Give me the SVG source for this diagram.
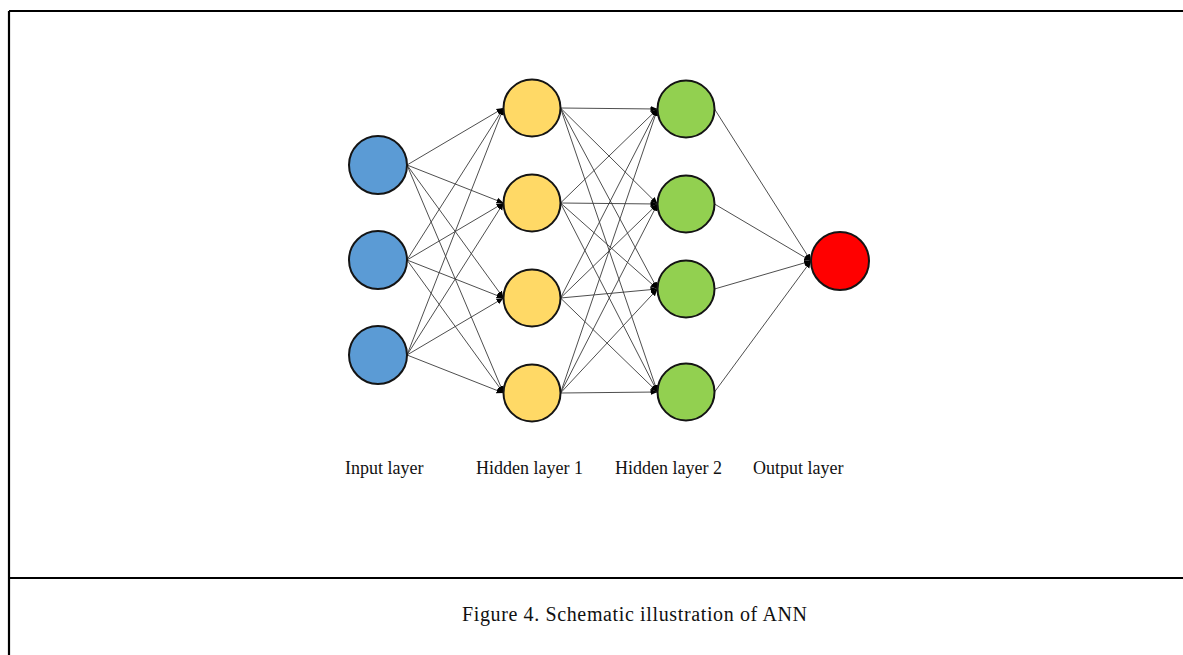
<svg xmlns="http://www.w3.org/2000/svg" width="1183" height="655" viewBox="0 0 1183 655">
<style>
.frame{stroke:#000;stroke-width:2.2;fill:none}
.node{stroke:#141414;stroke-width:2}
.in{fill:#5B9BD5}
.h1{fill:#FFD966}
.h2{fill:#92D050}
.out{fill:#FF0000}
.edge{stroke:#3a3a3a;stroke-width:0.9;fill:none;marker-end:url(#arr)}
.lbl{font-family:"Liberation Serif","Times New Roman",serif;font-size:18px;fill:#111}
.cap{font-family:"Liberation Serif","Times New Roman",serif;font-size:20px;fill:#111}
</style>
<defs>
<marker id="arr" markerUnits="userSpaceOnUse" markerWidth="8" markerHeight="8" viewBox="0 0 8 8" refX="7" refY="4" orient="auto">
<path d="M0,1 L7,4 L0,7 Z" fill="#000"/>
</marker>
</defs>
<rect width="1183" height="655" fill="#fff"/>
<g id="frame">
<path class="frame" d="M9,11 H1183 M9,11 V655"/>
<path class="frame" d="M9,578 H1183" stroke-width="2.6"/>
</g>
<g id="connectors">
<!-- input -> hidden1 -->
<line class="edge" x1="407" y1="165" x2="503.5" y2="108"/>
<line class="edge" x1="407" y1="165" x2="503.5" y2="203"/>
<line class="edge" x1="407" y1="165" x2="503.5" y2="298"/>
<line class="edge" x1="407" y1="165" x2="503.5" y2="393"/>
<line class="edge" x1="407" y1="260" x2="503.5" y2="108"/>
<line class="edge" x1="407" y1="260" x2="503.5" y2="203"/>
<line class="edge" x1="407" y1="260" x2="503.5" y2="298"/>
<line class="edge" x1="407" y1="260" x2="503.5" y2="393"/>
<line class="edge" x1="407" y1="355" x2="503.5" y2="108"/>
<line class="edge" x1="407" y1="355" x2="503.5" y2="203"/>
<line class="edge" x1="407" y1="355" x2="503.5" y2="298"/>
<line class="edge" x1="407" y1="355" x2="503.5" y2="393"/>
<!-- hidden1 -> hidden2 -->
<line class="edge" x1="560.5" y1="108" x2="657.5" y2="109"/>
<line class="edge" x1="560.5" y1="108" x2="657.5" y2="204"/>
<line class="edge" x1="560.5" y1="108" x2="657.5" y2="289"/>
<line class="edge" x1="560.5" y1="108" x2="657.5" y2="392"/>
<line class="edge" x1="560.5" y1="203" x2="657.5" y2="109"/>
<line class="edge" x1="560.5" y1="203" x2="657.5" y2="204"/>
<line class="edge" x1="560.5" y1="203" x2="657.5" y2="289"/>
<line class="edge" x1="560.5" y1="203" x2="657.5" y2="392"/>
<line class="edge" x1="560.5" y1="298" x2="657.5" y2="109"/>
<line class="edge" x1="560.5" y1="298" x2="657.5" y2="204"/>
<line class="edge" x1="560.5" y1="298" x2="657.5" y2="289"/>
<line class="edge" x1="560.5" y1="298" x2="657.5" y2="392"/>
<line class="edge" x1="560.5" y1="393" x2="657.5" y2="109"/>
<line class="edge" x1="560.5" y1="393" x2="657.5" y2="204"/>
<line class="edge" x1="560.5" y1="393" x2="657.5" y2="289"/>
<line class="edge" x1="560.5" y1="393" x2="657.5" y2="392"/>
<!-- hidden2 -> output -->
<line class="edge" x1="714.5" y1="109" x2="811" y2="261"/>
<line class="edge" x1="714.5" y1="204" x2="811" y2="261"/>
<line class="edge" x1="714.5" y1="289" x2="811" y2="261"/>
<line class="edge" x1="714.5" y1="392" x2="811" y2="261"/>
</g>
<g id="input-1"><circle class="node in" cx="378" cy="165" r="29"/></g>
<g id="input-2"><circle class="node in" cx="378" cy="260" r="29"/></g>
<g id="input-3"><circle class="node in" cx="378" cy="355" r="29"/></g>
<g id="hidden1-1"><circle class="node h1" cx="532" cy="108" r="28.5"/></g>
<g id="hidden1-2"><circle class="node h1" cx="532" cy="203" r="28.5"/></g>
<g id="hidden1-3"><circle class="node h1" cx="532" cy="298" r="28.5"/></g>
<g id="hidden1-4"><circle class="node h1" cx="532" cy="393" r="28.5"/></g>
<g id="hidden2-1"><circle class="node h2" cx="686" cy="109" r="28.5"/></g>
<g id="hidden2-2"><circle class="node h2" cx="686" cy="204" r="28.5"/></g>
<g id="hidden2-3"><circle class="node h2" cx="686" cy="289" r="28.5"/></g>
<g id="hidden2-4"><circle class="node h2" cx="686" cy="392" r="28.5"/></g>
<g id="output-1"><circle class="node out" cx="840" cy="261" r="29"/></g>
<g id="labels">
<text class="lbl" x="345" y="474">Input layer</text>
<text class="lbl" x="476" y="474">Hidden layer 1</text>
<text class="lbl" x="615" y="474">Hidden layer 2</text>
<text class="lbl" x="753" y="474">Output layer</text>
</g>
<g id="caption">
<text class="cap" x="462" y="621" textLength="345" lengthAdjust="spacing">Figure 4. Schematic illustration of ANN</text>
</g>
</svg>
